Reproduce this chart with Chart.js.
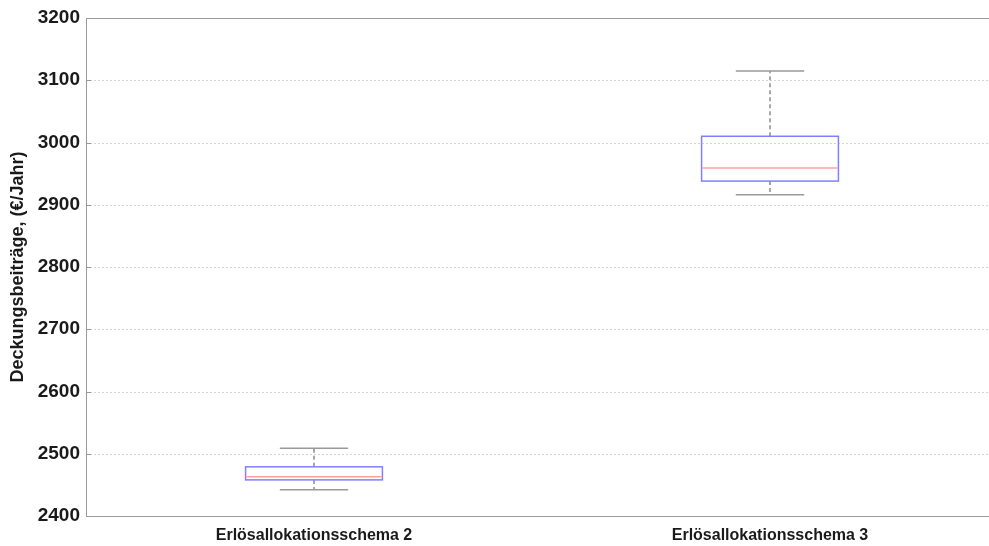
<!DOCTYPE html>
<html>
<head>
<meta charset="utf-8">
<script src="https://cdn.jsdelivr.net/npm/chart.js@4/dist/chart.umd.min.js"></script>
<style>
  html, body { margin: 0; padding: 0; background: #fff; overflow: hidden; }
  #wrap { width: 989px; height: 546px; overflow: hidden; }
</style>
</head>
<body>
<div id="wrap"><canvas id="box" width="1000" height="546"></canvas></div>
<script>
// boxplot values
const categories = ['Erlösallokationsschema 2', 'Erlösallokationsschema 3'];
const whiskerLow = [2442, 2916];
const q1 = [2458, 2938];
const median = [2463, 2959];
const q3 = [2479, 3010];
const whiskerHigh = [2509, 3115];
const yTicks = [2400, 2500, 2600, 2700, 2800, 2900, 3000, 3100, 3200];

const boxWidth = 0.3;   // in x units
const capWidth = 0.15;

const boxPlugin = {
    id: 'boxes',
    beforeDatasetsDraw(chart) {
        const ctx = chart.ctx;
        const area = chart.chartArea;
        const y = chart.scales.y;
        ctx.save();
        // dotted grid
        ctx.strokeStyle = '#d4d4d4';
        ctx.lineWidth = 1;
        ctx.setLineDash([2, 2]);
        yTicks.forEach(function (t) {
            if (t === yTicks[0] || t === yTicks[yTicks.length - 1]) return;
            const py = Math.round(y.getPixelForValue(t)) + 0.5;
            ctx.beginPath();
            ctx.moveTo(area.left, py);
            ctx.lineTo(area.right, py);
            ctx.stroke();
        });
        ctx.setLineDash([]);
        // frame
        ctx.strokeStyle = '#9a9a9a';
        ctx.strokeRect(Math.round(area.left) + 0.5, Math.round(area.top) + 0.5,
            Math.round(area.right - area.left), Math.round(area.bottom - area.top));
        // inward ticks
        yTicks.forEach(function (t) {
            const py = Math.round(y.getPixelForValue(t)) + 0.5;
            ctx.beginPath();
            ctx.moveTo(area.left, py);
            ctx.lineTo(area.left + 5, py);
            ctx.stroke();
        });
        ctx.restore();
    },
    afterDatasetsDraw(chart) {
        const ctx = chart.ctx;
        const x = chart.scales.x;
        const y = chart.scales.y;
        ctx.save();
        ctx.lineWidth = 1.5;
        categories.forEach(function (c, i) {
            const cx = x.getPixelForValue(i + 1);
            const bl = x.getPixelForValue(i + 1 - boxWidth / 2);
            const br = x.getPixelForValue(i + 1 + boxWidth / 2);
            const cl = x.getPixelForValue(i + 1 - capWidth / 2);
            const cr = x.getPixelForValue(i + 1 + capWidth / 2);
            const yLo = y.getPixelForValue(whiskerLow[i]);
            const yQ1 = y.getPixelForValue(q1[i]);
            const yMed = y.getPixelForValue(median[i]);
            const yQ3 = y.getPixelForValue(q3[i]);
            const yHi = y.getPixelForValue(whiskerHigh[i]);

            // whiskers (dashed)
            ctx.strokeStyle = '#8c8c8c';
            ctx.setLineDash([4, 3]);
            ctx.beginPath();
            ctx.moveTo(cx, yQ3);
            ctx.lineTo(cx, yHi);
            ctx.moveTo(cx, yQ1);
            ctx.lineTo(cx, yLo);
            ctx.stroke();
            ctx.setLineDash([]);

            // caps
            ctx.strokeStyle = '#9a9a9a';
            ctx.beginPath();
            ctx.moveTo(cl, yHi);
            ctx.lineTo(cr, yHi);
            ctx.moveTo(cl, yLo);
            ctx.lineTo(cr, yLo);
            ctx.stroke();

            // box
            ctx.strokeStyle = '#8080ff';
            ctx.strokeRect(bl, yQ3, br - bl, yQ1 - yQ3);

            // median
            ctx.strokeStyle = '#ffa0a0';
            ctx.beginPath();
            ctx.moveTo(bl + 1, yMed);
            ctx.lineTo(br - 1, yMed);
            ctx.stroke();
        });
        ctx.restore();
    }
};

new Chart(document.getElementById('box').getContext('2d'), {
    type: 'scatter',
    data: { datasets: [{ data: [], pointRadius: 0 }] },
    options: {
        responsive: false,
        animation: false,
        devicePixelRatio: 1,
        layout: { padding: { top: 18, right: 2, left: 0, bottom: 0 } },
        plugins: { legend: { display: false }, tooltip: { enabled: false } },
        scales: {
            x: {
                type: 'linear',
                min: 0.5,
                max: 2.5,
                afterBuildTicks: function (axis) {
                    axis.ticks = categories.map((c, i) => ({ value: i + 1 }));
                },
                ticks: {
                    callback: function (value) { return categories[value - 1]; },
                    font: { family: 'Liberation Sans', size: 16, weight: 'bold' },
                    color: '#1a1a1a',
                    padding: 2,
                    maxRotation: 0,
                    autoSkip: false
                },
                grid: { display: false },
                border: { display: false },
                afterFit: function (s) { s.height = 30; }
            },
            y: {
                min: 2400,
                max: 3200,
                afterBuildTicks: function (axis) {
                    axis.ticks = yTicks.map(v => ({ value: v }));
                },
                ticks: {
                    callback: function (value) { return String(value); },
                    font: { family: 'Liberation Sans', size: 19, weight: 'bold' },
                    color: '#1a1a1a',
                    padding: 6
                },
                title: {
                    display: true,
                    text: 'Deckungsbeiträge, (€/Jahr)',
                    font: { family: 'Liberation Sans', size: 18, weight: 'bold' },
                    color: '#1a1a1a',
                    padding: { top: 7, bottom: 0 }
                },
                grid: { display: false, drawTicks: false },
                border: { display: false },
                afterFit: function (s) { s.width = 86; }
            }
        }
    },
    plugins: [boxPlugin]
});
</script>
</body>
</html>
